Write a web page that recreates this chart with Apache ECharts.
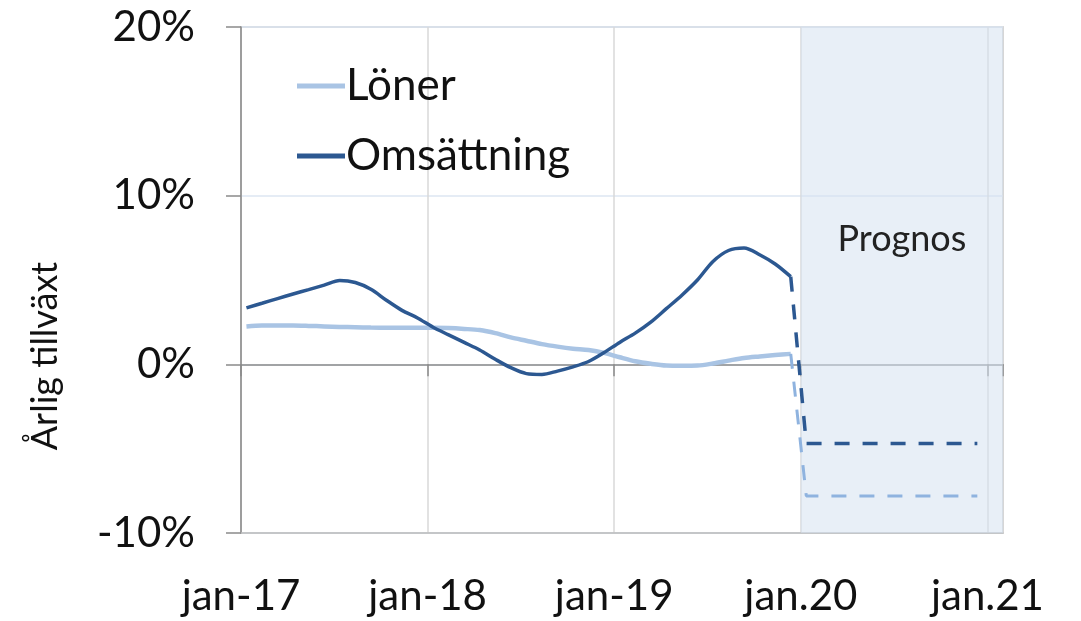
<!DOCTYPE html>
<html>
<head>
<meta charset="utf-8">
<script src="https://cdn.jsdelivr.net/npm/echarts@6/dist/echarts.min.js"></script>
<style>
html, body { margin: 0; padding: 0; background: #fff; }
#main { width: 1081px; height: 621px; }
</style>
</head>
<body>
<div id="main"></div>
<script>
// months, jan-17 = 0
const yearLabels = ['jan-17', 'jan-18', 'jan-19', 'jan.20', 'jan.21'];
const yTicks = [-10, 0, 10, 20];

// utfall jan-17 .. dec-19
const lonerActual = [2.25, 2.3, 2.3, 2.3, 2.28, 2.25, 2.22, 2.2, 2.18, 2.17, 2.17, 2.17,
  2.17, 2.15, 2.1, 2.03, 1.85, 1.6, 1.4, 1.2, 1.05, 0.93, 0.85, 0.68,
  0.42, 0.18, 0.03, -0.07, -0.08, -0.07, 0.05, 0.22, 0.38, 0.47, 0.55, 0.62];
const omsActual = [3.35, 3.62, 3.9, 4.17, 4.43, 4.7, 4.97, 4.85, 4.45, 3.8, 3.2, 2.75,
  2.2, 1.75, 1.3, 0.85, 0.3, -0.2, -0.55, -0.6, -0.4, -0.15, 0.17, 0.7,
  1.3, 1.85, 2.5, 3.3, 4.1, 5.0, 6.1, 6.75, 6.9, 6.5, 5.95, 5.2];

// prognos jan-20 .. dec-20
const lonerForecast = [-7.8, -7.8, -7.8, -7.8, -7.8, -7.8, -7.8, -7.8, -7.8, -7.8, -7.8, -7.8];
const omsForecast = [-4.7, -4.7, -4.7, -4.7, -4.7, -4.7, -4.7, -4.7, -4.7, -4.7, -4.7, -4.7];

const DAY_OFFSET = 0.35; // datapunkter en bit in i månaden
const lightBlue = '#a9c4e4';
const darkBlue = '#2c5891';

function toPoints(vals, start) {
  return vals.map((v, i) => [start + i + DAY_OFFSET, v]);
}
const n = lonerActual.length;
const lonerA = toPoints(lonerActual, 0);
const omsA = toPoints(omsActual, 0);
const lonerF = [lonerA[n - 1]].concat(toPoints(lonerForecast, n));
const omsF = [omsA[n - 1]].concat(toPoints(omsForecast, n));

const font = 'Lato';
let chart = echarts.init(document.getElementById('main'));
let option = {
  animation: false,
  textStyle: { fontFamily: font },
  grid: {
    left: 241, right: 78, top: 27, bottom: 88,
    show: true, borderColor: '#bdbdbd', borderWidth: 1.5, backgroundColor: 'transparent'
  },
  legend: {
    orient: 'vertical',
    left: 292, top: 59,
    itemWidth: 48, itemHeight: 5, itemGap: 26,
    icon: 'rect',
    data: ['Löner', 'Omsättning'],
    textStyle: { fontFamily: font, fontSize: 44, color: '#111', lineHeight: 44, padding: [0, 0, 0, -4] }
  },
  xAxis: [{
    type: 'value', min: 0, max: 49, interval: 12,
    axisLine: { show: true, onZero: false, lineStyle: { color: '#bdbdbd', width: 1.5 } },
    axisTick: { show: false },
    splitLine: { show: true, lineStyle: { color: '#d9d9d9', width: 1.5 } },
    axisLabel: {
      fontSize: 42, color: '#111', margin: 42,
      formatter: v => (v % 12 === 0 ? yearLabels[v / 12] : '')
    }
  }, {
    type: 'value', min: 0, max: 49, interval: 12,
    axisLine: { show: true, onZero: true, onZeroAxisIndex: 0, lineStyle: { color: '#8a8a8a', width: 1.5 } },
    axisTick: { show: true, inside: false, length: 12, lineStyle: { color: '#8a8a8a', width: 1.5 } },
    axisLabel: { show: false },
    splitLine: { show: false },
    position: 'bottom'
  }],
  yAxis: {
    type: 'value', min: yTicks[0], max: yTicks[yTicks.length - 1], interval: 10,
    name: 'Årlig tillväxt', nameLocation: 'middle', nameRotate: 90, nameGap: 178,
    nameTextStyle: { fontFamily: font, fontSize: 36, color: '#111', padding: [0, 152, 0, 0] },
    axisLine: { show: true, lineStyle: { color: '#8a8a8a', width: 1.5 } },
    axisTick: { show: true, length: 15, lineStyle: { color: '#8a8a8a', width: 1.5 } },
    splitLine: { show: true, lineStyle: { color: '#dce6f2', width: 1.5 } },
    axisLabel: { fontSize: 42, color: '#111', margin: 46, formatter: '{value}%' }
  },
  series: [
    {
      name: 'Löner', type: 'line', data: lonerA, showSymbol: false, smooth: 0.3,
      lineStyle: { color: lightBlue, width: 4.5 }, itemStyle: { color: lightBlue },
      markArea: {
        silent: true,
        itemStyle: { color: 'rgba(214,226,241,0.55)' },
        label: {
          show: true, position: ['50%', 194], align: 'center',
          fontFamily: font, fontSize: 36, color: '#222'
        },
        data: [[{ xAxis: 36, name: 'Prognos' }, { xAxis: 49 }]]
      },
      z: 2
    },
    {
      name: 'Löner prognos', type: 'line', data: lonerF, showSymbol: false,
      lineStyle: { color: '#8fb3df', width: 3, type: [15, 13] }, z: 2
    },
    {
      name: 'Omsättning', type: 'line', data: omsA, showSymbol: false, smooth: 0.3,
      lineStyle: { color: darkBlue, width: 3.5 }, itemStyle: { color: darkBlue }, z: 3
    },
    {
      name: 'Omsättning prognos', type: 'line', data: omsF, showSymbol: false,
      lineStyle: { color: darkBlue, width: 3.5, type: [15, 13] }, z: 3
    }
  ]
};
chart.setOption(option);
</script>
</body>
</html>
